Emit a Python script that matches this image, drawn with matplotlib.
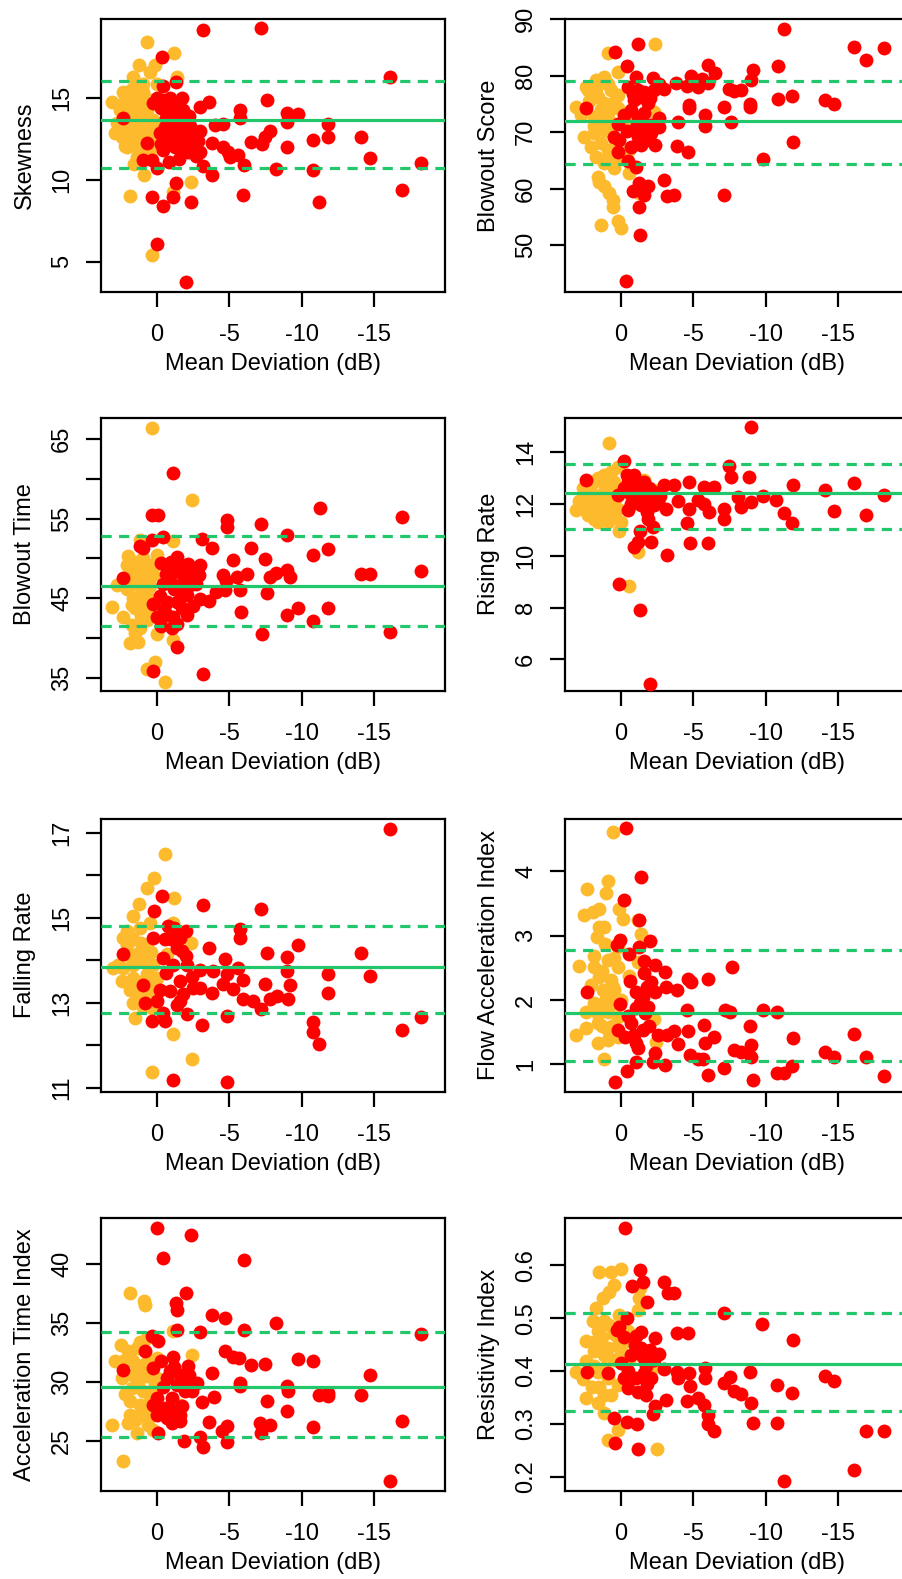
import numpy as np
import matplotlib.pyplot as plt

plt.rcParams['font.family'] = ['Liberation Sans', 'DejaVu Sans']
plt.rcParams['font.size'] = 17

# (mean deviation dB, value) pairs
skew_red = [(-3.2, 19.18), (-7.19, 19.29), (-0.37, 17.55), (-16.1, 16.33), (-1.29, 16.0), (-0.44, 15.76),
            (-2.97, 14.49), (-3.62, 14.8), (-7.58, 14.9), (-5.74, 14.29), (-5.74, 13.78), (-8.96, 14.08),
            (-9.77, 14.04), (-8.96, 13.57), (-11.84, 13.43), (-4.0, 13.37), (-4.54, 13.43), (-7.81, 13.02),
            (-7.46, 12.65), (-7.23, 12.2), (-6.47, 12.35), (-14.08, 12.61), (-11.84, 12.65), (-10.76, 12.45),
            (-8.96, 12.04), (-3.8, 12.24), (-4.59, 12.04), (-4.88, 11.73), (-5.58, 11.53), (-5.05, 11.43),
            (-2.97, 11.69), (-2.17, 11.73), (-3.16, 10.88), (-3.8, 10.33), (-6.04, 10.92), (-8.2, 10.67),
            (-10.81, 10.61), (-14.72, 11.33), (-18.23, 11.02), (-16.96, 9.39), (-11.22, 8.67), (-5.97, 9.08),
            (-2.35, 8.67), (-1.31, 9.84), (-1.13, 8.94), (-0.39, 8.43), (0.37, 8.98), (0.02, 6.08), (-2.0, 3.78),
            (0.02, 15.0), (-0.44, 14.9), (-0.9, 15.0), (-1.7, 15.0), (-1.13, 14.7), (-0.67, 14.3), (-1.82, 14.3),
            (0.25, 14.7), (-1.36, 13.9), (-2.28, 13.3), (-2.51, 12.86), (-1.59, 12.65), (-1.24, 12.04),
            (-2.05, 12.24), (-0.44, 11.84), (-0.55, 13.27), (-0.9, 13.06), (-1.59, 13.27), (-2.4, 12.65),
            (0.37, 11.22), (0.02, 10.71), (0.94, 11.22), (-1.13, 12.45), (-0.67, 12.45), (-1.7, 11.84),
            (-2.51, 12.04), (0.71, 12.24), (2.33, 13.78), (-0.3, 14.4), (-1.0, 14.2), (-1.9, 13.7), (-0.6, 13.8),
            (-2.2, 13.9), (-1.1, 13.3), (-2.8, 12.4), (-1.9, 12.9), (-0.2, 12.9), (-2.7, 11.5), (-1.5, 11.3),
            (-0.8, 11.1), (-3.0, 13.0), (-0.3, 12.2)]
skew_nor = [(0.67, 18.47), (-1.2, 17.76), (1.24, 17.04), (0.14, 17.04), (0.48, 16.63), (1.64, 16.33),
            (-1.36, 16.33), (3.13, 14.8), (2.33, 15.4), (1.75, 15.6), (0.94, 15.4), (1.4, 14.9), (2.56, 14.29),
            (1.87, 14.5), (0.71, 14.29), (1.18, 13.88), (2.9, 12.86), (2.44, 12.65), (1.87, 13.27), (1.4, 12.86),
            (0.94, 13.27), (0.48, 12.86), (0.25, 13.67), (1.75, 12.24), (0.94, 12.04), (1.4, 11.43),
            (0.48, 11.63), (2.1, 12.04), (0.9, 10.31), (1.87, 9.02), (0.37, 5.41), (-2.35, 9.9), (-1.13, 9.29),
            (0.02, 15.9), (-0.67, 14.1), (0.14, 12.04), (-0.2, 13.27), (1.64, 13.67), (2.21, 14.9), (2.79, 13.47),
            (2.0, 15.0), (1.5, 14.2), (1.0, 14.6), (0.6, 13.8), (1.2, 13.0), (1.8, 12.5), (0.8, 12.6), (0.3, 12.4),
            (1.3, 11.9), (0.6, 11.4), (2.2, 12.1), (1.6, 11.0), (0.4, 14.9), (2.6, 13.1), (1.0, 15.9)]

score_red = [(-11.24, 88.3), (-1.15, 85.6), (-16.13, 85.1), (-18.16, 84.9), (-16.94, 82.7), (0.41, 84.2),
             (-0.41, 81.6), (-5.99, 81.8), (-6.52, 80.4), (-10.83, 81.6), (-9.1, 80.9), (-8.99, 79.2),
             (-4.84, 79.9), (-5.58, 79.3), (-5.99, 78.6), (-2.19, 79.5), (-1.04, 79.8), (-3.8, 78.6), (-3.0, 77.7),
             (-4.56, 78.1), (-5.3, 78.0), (-7.49, 77.7), (-8.29, 77.4), (-7.83, 77.3), (-0.46, 78.0),
             (-1.15, 77.4), (-1.61, 77.1), (-2.3, 77.4), (-0.92, 75.6), (-1.84, 75.1), (-1.34, 76.2),
             (-10.83, 75.9), (-11.8, 76.4), (-14.1, 75.6), (-14.75, 74.9), (-4.72, 74.2), (-4.72, 74.8),
             (-7.14, 74.4), (-8.94, 74.4), (-8.94, 74.9), (-0.69, 73.9), (-0.23, 73.0), (2.42, 74.2),
             (-5.81, 73.0), (-5.81, 71.1), (-3.96, 71.8), (-7.6, 71.8), (0.23, 71.5), (-1.61, 71.5),
             (-1.04, 70.9), (-2.07, 71.2), (-2.65, 70.9), (-1.38, 70.1), (-2.07, 69.8), (-1.15, 69.2),
             (0.12, 68.6), (-1.38, 67.7), (-2.37, 67.7), (-3.85, 67.6), (-11.87, 68.3), (-4.65, 66.4),
             (-9.79, 65.2), (0.23, 66.5), (-0.46, 64.8), (-1.04, 63.9), (-3.0, 61.5), (-1.22, 60.9),
             (-1.84, 60.4), (-0.81, 59.5), (-1.57, 58.9), (-3.18, 58.6), (-3.64, 58.9), (-7.14, 58.9),
             (-1.27, 56.7), (-1.34, 51.8), (-0.35, 43.6), (0.46, 69.2), (-0.8, 76.8), (-2.0, 76.0), (-1.6, 73.4),
             (-2.6, 72.5), (-0.4, 70.2), (-1.9, 68.6), (-0.7, 67.4), (-2.6, 78.5), (-1.2, 72.6)]
score_nor = [(-2.37, 85.5), (0.88, 83.9), (0.23, 80.6), (1.15, 79.8), (1.73, 79.2), (2.42, 77.9), (0.69, 77.4),
             (0.23, 76.5), (1.61, 76.2), (3.11, 74.5), (2.76, 73.0), (1.15, 75.1), (1.84, 72.7), (0.92, 73.3),
             (0.23, 74.2), (-0.23, 72.1), (-0.58, 73.0), (-2.3, 73.6), (2.53, 69.2), (1.84, 69.8), (1.15, 70.4),
             (0.69, 69.8), (1.38, 68.0), (2.07, 67.4), (0.92, 66.8), (-0.58, 66.8), (1.73, 65.6), (1.15, 64.5),
             (0.23, 65.4), (0.46, 63.6), (-0.58, 62.7), (1.61, 62.1), (1.5, 61.2), (1.15, 60.4), (0.81, 59.2),
             (0.58, 58.0), (0.53, 56.8), (1.38, 53.6), (0.23, 54.2), (0.0, 53.0), (-1.22, 59.2), (2.3, 77.4),
             (1.4, 74.0), (0.6, 71.6), (1.9, 71.0), (1.2, 72.2), (0.4, 68.4), (1.7, 77.6), (0.9, 78.5),
             (2.2, 75.5), (0.5, 75.4), (0.9, 65.5)]

btime_red = [(-1.13, 60.7), (-11.27, 56.3), (-16.96, 55.25), (0.37, 55.4), (-0.05, 55.5), (-4.82, 54.8),
             (-4.82, 54.0), (-7.17, 54.3), (-8.96, 52.9), (-0.39, 52.7), (0.37, 52.3), (-3.09, 52.4),
             (-3.8, 51.3), (-6.47, 51.3), (-10.76, 50.4), (-11.84, 51.2), (0.94, 51.3), (-1.36, 50.2),
             (-5.28, 49.8), (-7.46, 49.9), (-2.97, 49.2), (-2.17, 49.3), (-14.08, 48.1), (-14.72, 48.1),
             (-18.23, 48.4), (-8.23, 48.2), (-8.96, 48.5), (-9.19, 47.6), (-7.81, 47.6), (-6.2, 48.1),
             (-5.55, 47.6), (-4.54, 47.9), (-4.77, 47.1), (-4.7, 46.0), (-5.74, 46.0), (-7.58, 45.7),
             (-4.08, 45.8), (-3.62, 44.7), (-2.97, 44.9), (-1.13, 48.3), (-1.82, 47.9), (-2.51, 47.5),
             (-2.28, 46.6), (-1.59, 46.6), (-0.9, 47.1), (-0.44, 46.8), (2.33, 47.5), (-2.05, 45.4),
             (-1.36, 44.5), (-0.67, 44.5), (0.25, 44.3), (0.02, 42.6), (-0.67, 42.9), (-1.7, 43.7),
             (-2.05, 42.9), (-1.13, 42.6), (-1.01, 41.2), (-9.77, 43.8), (-11.84, 43.8), (-5.8, 43.3),
             (-8.96, 42.9), (-10.76, 42.1), (-7.24, 40.5), (-16.1, 40.7), (-1.36, 38.9), (0.25, 35.8),
             (-3.16, 35.4), (1.18, 51.5), (-0.3, 49.4), (-1.0, 49.6), (-1.6, 49.0), (-2.3, 48.6), (-0.6, 48.1),
             (-1.2, 46.1), (-2.7, 46.8), (-0.2, 45.3), (-1.7, 45.3), (-0.5, 43.6), (-2.5, 44.0), (-1.4, 41.8),
             (-0.3, 41.5), (-2.9, 47.9)]
btime_nor = [(0.37, 66.4), (-2.4, 57.4), (1.18, 52.3), (-1.13, 52.2), (1.4, 49.6), (0.94, 50.0), (1.87, 48.7),
             (0.48, 49.2), (0.02, 50.4), (2.79, 46.6), (2.1, 46.2), (1.64, 47.7), (0.94, 47.3), (0.25, 47.9),
             (3.13, 43.9), (2.33, 42.6), (1.52, 43.7), (1.64, 45.0), (0.71, 45.4), (0.6, 43.5), (1.75, 41.6),
             (1.18, 41.2), (1.87, 39.3), (1.29, 39.5), (0.02, 40.5), (-1.13, 39.7), (0.71, 36.1), (0.14, 37.0),
             (-0.55, 34.5), (-0.55, 44.1), (0.94, 48.3), (2.1, 49.2), (1.6, 48.5), (1.2, 49.5), (0.8, 48.9),
             (1.5, 46.8), (1.0, 46.2), (0.5, 46.5), (1.3, 45.2), (0.9, 44.6), (1.7, 44.2), (0.4, 44.9),
             (1.1, 42.8), (0.7, 42.2), (1.5, 40.6), (2.0, 50.3), (0.2, 49.0)]

rise_red = [(-8.99, 14.96), (-0.23, 13.64), (-7.49, 13.48), (-8.87, 13.05), (-7.6, 13.05), (2.42, 12.92),
            (-0.92, 13.12), (-4.72, 12.83), (-3.0, 12.73), (-3.69, 12.73), (-5.76, 12.66), (-6.45, 12.66),
            (-11.87, 12.73), (-16.13, 12.79), (-14.1, 12.53), (-18.16, 12.36), (-9.79, 12.31), (-10.71, 12.14),
            (-8.99, 12.08), (-8.06, 12.27), (-8.29, 11.88), (-3.92, 12.1), (-5.3, 12.14), (-5.76, 12.01),
            (-6.11, 11.69), (-4.72, 11.82), (-3.11, 11.82), (-7.14, 11.82), (-7.14, 11.43), (-11.24, 11.66),
            (-14.75, 11.71), (-11.8, 11.26), (-16.94, 11.56), (-4.54, 11.26), (-1.84, 11.43), (-2.19, 11.1),
            (-1.34, 10.97), (-2.07, 10.52), (-4.79, 10.49), (-5.99, 10.49), (-1.15, 10.52), (-0.92, 10.32),
            (-3.18, 10.04), (0.16, 8.9), (-1.34, 7.92), (-2.0, 5.06), (-0.46, 12.86), (-1.15, 12.6),
            (-1.61, 12.34), (-2.07, 12.21), (-2.53, 12.08), (-1.15, 12.08), (-0.46, 11.75), (-0.69, 12.34),
            (0.23, 12.34), (-0.23, 12.6), (-1.61, 12.86), (-2.3, 12.47), (-0.92, 12.73), (-1.38, 11.95),
            (-2.3, 11.95), (-0.7, 12.0), (-1.9, 12.6), (-2.7, 12.3), (-0.4, 13.1), (-1.2, 12.3), (-1.8, 11.7)]
rise_nor = [(0.85, 14.35), (0.23, 13.44), (0.69, 13.25), (1.15, 13.12), (1.61, 12.99), (-1.61, 12.92),
            (-2.3, 12.53), (2.07, 12.73), (2.53, 12.34), (1.84, 12.34), (1.15, 12.47), (0.69, 12.6),
            (3.11, 11.75), (2.53, 11.82), (2.07, 11.95), (1.38, 12.08), (0.92, 12.21), (2.3, 11.56),
            (1.61, 11.56), (0.92, 11.69), (0.23, 11.82), (1.61, 11.3), (0.92, 11.3), (0.0, 11.3), (-0.69, 11.95),
            (0.16, 10.94), (-1.15, 10.13), (-0.58, 8.83), (-0.46, 13.05), (0.46, 12.86), (1.9, 12.1),
            (1.3, 11.9), (0.6, 12.0), (1.8, 12.9), (0.4, 12.2), (2.6, 12.6), (1.2, 12.8), (0.5, 11.5),
            (1.9, 11.4), (2.9, 12.1)]

fall_red = [(-16.1, 17.09), (-0.32, 15.51), (-3.16, 15.3), (-7.19, 15.2), (0.21, 15.16), (-0.78, 14.8),
            (-1.2, 14.76), (-2.0, 14.69), (-5.74, 14.73), (-5.74, 14.53), (0.3, 14.53), (-0.55, 14.49),
            (-1.59, 14.53), (-9.77, 14.35), (-3.62, 14.29), (-14.08, 14.18), (-7.58, 14.16), (-1.7, 14.22),
            (-8.96, 14.07), (-4.7, 14.02), (2.33, 14.14), (-0.44, 14.06), (-1.13, 13.9), (-2.05, 13.9),
            (-2.97, 13.78), (-3.89, 13.75), (-5.62, 13.82), (-8.96, 13.75), (-11.84, 13.67), (-14.72, 13.63),
            (-4.82, 13.67), (-5.97, 13.53), (-4.54, 13.45), (-7.46, 13.45), (-9.19, 13.42), (-1.59, 13.51),
            (-2.51, 13.35), (-2.97, 13.35), (-5.28, 13.33), (-3.8, 13.24), (-11.84, 13.24), (0.94, 13.43),
            (-0.9, 13.27), (-1.82, 13.2), (-5.97, 13.08), (-6.66, 13.05), (-7.81, 13.08), (-8.27, 13.16),
            (-9.08, 13.1), (-7.19, 12.86), (0.83, 13.0), (0.02, 13.04), (-1.36, 12.96), (-0.44, 12.76),
            (-2.05, 12.74), (-4.82, 12.69), (0.37, 12.57), (-0.55, 12.57), (-3.09, 12.47), (-10.76, 12.55),
            (-10.76, 12.31), (-11.22, 12.04), (-18.23, 12.67), (-16.96, 12.36), (-1.08, 11.18), (-4.82, 11.13),
            (-1.59, 13.04), (-0.6, 13.7), (-1.4, 14.3), (-2.4, 13.6), (-0.2, 13.3), (-1.0, 14.5), (-2.0, 14.1)]
fall_nor = [(-0.55, 16.49), (0.21, 15.94), (0.71, 15.71), (-1.2, 15.47), (1.22, 15.33), (1.64, 15.04),
            (-1.13, 14.88), (2.1, 14.69), (1.18, 14.76), (0.48, 14.88), (2.33, 14.53), (1.64, 14.49),
            (-2.33, 14.41), (0.71, 14.29), (1.4, 14.14), (2.1, 14.37), (3.02, 13.82), (2.33, 13.82),
            (1.64, 13.9), (0.94, 13.98), (0.25, 13.9), (2.44, 13.51), (1.64, 13.59), (0.71, 13.67),
            (0.02, 13.59), (1.4, 13.24), (0.71, 13.2), (-0.09, 13.27), (1.64, 13.0), (0.37, 12.88),
            (1.52, 12.65), (-1.08, 12.27), (-2.4, 11.69), (0.37, 11.38), (-0.67, 14.14), (1.1, 14.4),
            (0.4, 14.2), (1.9, 13.3), (1.1, 13.5), (0.5, 13.4), (1.9, 14.1), (2.7, 13.9), (1.0, 12.9)]

fai_red = [(-0.35, 4.67), (-1.38, 3.92), (-0.23, 3.55), (-1.27, 3.25), (-2.03, 2.92), (0.05, 2.93),
           (-1.27, 2.83), (-0.58, 2.72), (0.28, 2.85), (-7.65, 2.51), (-2.35, 2.54), (-3.04, 2.44),
           (-1.57, 2.42), (-4.65, 2.33), (-5.99, 2.33), (-4.84, 2.28), (-2.07, 2.28), (-3.11, 2.2),
           (-3.87, 2.15), (-1.04, 2.12), (-2.35, 2.12), (-1.5, 2.05), (2.35, 2.12), (0.05, 1.94),
           (-1.04, 1.87), (-1.84, 1.89), (-1.66, 1.8), (-4.56, 1.85), (-7.19, 1.84), (-7.56, 1.82),
           (-9.79, 1.84), (-10.78, 1.82), (-0.69, 1.64), (-1.5, 1.53), (0.23, 1.53), (-0.28, 1.43),
           (-0.92, 1.45), (-5.76, 1.61), (-8.94, 1.59), (-4.65, 1.52), (-3.18, 1.45), (-3.69, 1.52),
           (-2.53, 1.45), (-6.45, 1.42), (-5.81, 1.34), (-11.87, 1.41), (-16.13, 1.47), (-3.96, 1.32),
           (-1.04, 1.33), (-1.15, 1.25), (-8.99, 1.3), (-7.83, 1.23), (-8.29, 1.2), (-14.1, 1.2),
           (-14.75, 1.12), (-16.94, 1.12), (-4.79, 1.15), (-5.3, 1.09), (-5.64, 1.09), (-8.99, 1.12),
           (-2.35, 1.17), (-2.19, 1.04), (-1.04, 1.04), (-3.06, 0.99), (-7.1, 0.94), (-11.8, 0.97),
           (-10.78, 0.86), (-11.24, 0.86), (-5.99, 0.84), (-18.16, 0.82), (-0.41, 0.89), (0.39, 0.73),
           (-9.1, 0.76), (-1.8, 2.2), (-1.3, 1.95), (-0.5, 1.75), (-1.9, 1.6), (-0.6, 2.3), (-1.6, 2.6)]
fai_nor = [(0.58, 4.62), (0.88, 3.85), (2.35, 3.73), (1.04, 3.67), (1.5, 3.42), (2.53, 3.33), (1.96, 3.37),
           (0.12, 3.42), (-0.12, 3.26), (-1.15, 3.24), (1.5, 3.13), (1.15, 3.13), (1.68, 2.98), (-1.38, 3.03),
           (1.1, 2.87), (0.18, 2.82), (2.88, 2.53), (1.84, 2.69), (1.84, 2.51), (0.92, 2.62), (0.23, 2.51),
           (-1.15, 2.59), (-0.58, 2.38), (1.5, 2.36), (0.69, 2.31), (2.07, 2.23), (1.27, 2.15), (0.46, 2.15),
           (1.04, 2.02), (0.0, 2.0), (2.42, 1.82), (1.61, 1.79), (0.92, 1.82), (0.23, 1.74), (-2.26, 1.7),
           (3.11, 1.45), (2.42, 1.56), (1.61, 1.64), (0.92, 1.53), (1.61, 1.34), (0.92, 1.38), (0.23, 1.43),
           (-2.42, 1.35), (1.15, 1.09), (0.58, 2.2), (1.3, 2.45), (0.5, 2.65), (1.9, 1.95), (1.3, 1.6),
           (0.6, 1.6), (1.2, 1.95), (0.4, 1.95)]

ati_red = [(0.02, 43.05), (-2.33, 42.49), (-0.44, 40.51), (-6.01, 40.37), (-2.0, 37.54), (-1.31, 36.69),
           (-1.36, 36.13), (-3.8, 35.65), (-4.7, 35.42), (-8.23, 35.0), (-1.41, 34.44), (-2.97, 34.21),
           (-6.04, 34.44), (-18.23, 34.07), (0.37, 33.87), (-0.09, 33.45), (0.83, 32.6), (-4.7, 32.6),
           (-5.28, 32.12), (-5.69, 32.03), (-1.08, 32.12), (-9.77, 31.98), (-10.76, 31.75), (-6.47, 31.47),
           (-7.46, 31.55), (-2.17, 31.33), (0.25, 31.19), (2.33, 31.05), (-3.8, 30.76), (-14.72, 30.62),
           (-0.9, 30.9), (-1.59, 30.62), (-0.67, 30.34), (-2.05, 30.06), (-2.74, 29.92), (-5.74, 29.92),
           (-5.74, 29.63), (-1.36, 29.77), (-8.96, 29.63), (-9.08, 29.21), (-11.22, 28.93), (-11.84, 29.07),
           (-11.84, 28.79), (-14.08, 28.93), (-2.4, 29.21), (-3.09, 28.31), (-3.96, 28.73), (-1.01, 28.64),
           (0.02, 28.64), (-7.58, 28.36), (0.25, 28.08), (-0.55, 27.8), (-1.7, 27.94), (-8.96, 27.57),
           (-1.59, 27.23), (0.02, 27.23), (-0.67, 26.95), (-1.59, 26.67), (-1.01, 26.53), (-3.62, 26.61),
           (-4.82, 26.24), (-4.47, 25.82), (-7.12, 26.53), (-7.81, 26.38), (-7.19, 25.68), (-10.76, 26.16),
           (-16.96, 26.72), (-0.09, 25.68), (-1.89, 24.97), (-4.82, 24.92), (-2.97, 25.34), (-3.16, 24.49),
           (-16.1, 21.58), (-1.2, 31.3), (-0.4, 29.6), (-1.9, 29.2), (-1.0, 27.6), (-2.2, 30.6), (-0.3, 31.8)]
ati_nor = [(1.87, 37.54), (0.9, 36.84), (0.83, 36.55), (2.51, 33.16), (1.4, 32.88), (0.71, 33.73),
           (-2.4, 32.26), (2.9, 31.75), (2.33, 31.75), (1.64, 31.75), (0.94, 31.47), (0.02, 32.03),
           (2.44, 30.34), (1.64, 30.62), (0.71, 30.48), (0.02, 30.34), (1.75, 29.49), (0.94, 29.21),
           (0.14, 29.77), (1.87, 28.36), (1.18, 28.08), (0.48, 28.36), (1.87, 27.23), (1.18, 27.23),
           (3.13, 26.38), (1.98, 26.53), (1.4, 25.68), (0.6, 26.38), (0.25, 25.96), (2.37, 23.28),
           (-1.13, 34.29), (-1.59, 28.08), (1.3, 30.0), (0.5, 29.0), (1.4, 31.1), (0.6, 31.9), (2.2, 29.0),
           (0.6, 27.4), (1.5, 26.8), (2.0, 32.6), (1.2, 33.4)]

ri_red = [(-0.3, 0.670), (-1.34, 0.591), (-1.54, 0.569), (-3.0, 0.569), (-0.76, 0.560), (-3.23, 0.547),
          (-3.64, 0.547), (-1.8, 0.530), (-7.14, 0.509), (-0.41, 0.500), (-9.75, 0.489), (0.12, 0.484),
          (0.28, 0.478), (-1.38, 0.474), (-3.87, 0.472), (-4.65, 0.472), (-1.04, 0.467), (-0.23, 0.465),
          (-2.35, 0.462), (-11.87, 0.458), (-1.38, 0.443), (-2.03, 0.440), (-1.5, 0.426), (-2.65, 0.432),
          (0.0, 0.415), (-3.0, 0.403), (-3.85, 0.399), (-4.72, 0.396), (-5.81, 0.406), (-8.94, 0.398),
          (-1.61, 0.396), (0.92, 0.396), (2.35, 0.399), (-1.04, 0.387), (-2.07, 0.387), (-0.23, 0.387),
          (-3.92, 0.387), (-5.81, 0.387), (-7.56, 0.388), (-14.1, 0.391), (-14.75, 0.381), (-7.14, 0.377),
          (-10.78, 0.374), (-4.79, 0.371), (-0.46, 0.368), (-1.15, 0.360), (-1.73, 0.355), (-7.83, 0.362),
          (-8.29, 0.357), (-11.8, 0.358), (-3.11, 0.346), (-4.56, 0.343), (-5.3, 0.349), (-5.76, 0.335),
          (-8.99, 0.340), (-2.35, 0.333), (-2.19, 0.318), (-5.99, 0.316), (0.46, 0.311), (-9.1, 0.302),
          (-10.78, 0.302), (-0.41, 0.304), (-1.11, 0.299), (-5.99, 0.300), (-6.45, 0.286), (-16.94, 0.286),
          (-18.16, 0.287), (0.39, 0.264), (-1.15, 0.252), (-16.13, 0.212), (-11.24, 0.192), (-0.7, 0.43),
          (-1.7, 0.41), (-0.5, 0.40), (-2.3, 0.42), (-1.0, 0.45), (-1.8, 0.375)]
ri_nor = [(1.5, 0.588), (0.69, 0.588), (0.0, 0.593), (0.46, 0.563), (0.81, 0.550), (1.27, 0.538),
          (-1.34, 0.557), (-1.27, 0.538), (1.73, 0.519), (-1.15, 0.516), (0.12, 0.506), (1.96, 0.494),
          (1.15, 0.494), (1.61, 0.475), (0.81, 0.487), (-0.46, 0.475), (2.42, 0.457), (1.61, 0.450),
          (0.92, 0.443), (0.23, 0.450), (-0.58, 0.456), (1.84, 0.437), (2.42, 0.418), (1.15, 0.431),
          (0.0, 0.437), (3.11, 0.399), (2.65, 0.384), (1.61, 0.399), (0.92, 0.387), (0.23, 0.374),
          (-0.58, 0.421), (-2.26, 0.407), (2.42, 0.349), (1.61, 0.340), (1.15, 0.355), (1.15, 0.321),
          (0.23, 0.289), (0.92, 0.270), (-2.47, 0.252), (1.3, 0.465), (0.5, 0.47), (1.9, 0.41),
          (1.2, 0.405), (0.5, 0.42), (2.0, 0.37), (1.5, 0.37), (0.7, 0.355), (1.9, 0.455)]

ylabels = ['Skewness', 'Blowout Score', 'Blowout Time', 'Rising Rate',
           'Falling Rate', 'Flow Acceleration Index', 'Acceleration Time Index', 'Resistivity Index']
red_sets = [skew_red, score_red, btime_red, rise_red, fall_red, fai_red, ati_red, ri_red]
nor_sets = [skew_nor, score_nor, btime_nor, rise_nor, fall_nor, fai_nor, ati_nor, ri_nor]

# reference mean and limits of agreement
ref_mean = [13.67, 71.94, 46.58, 12.41, 13.85, 1.80, 29.58, 0.413]
ref_low = [10.76, 64.35, 41.52, 11.02, 12.75, 1.06, 25.29, 0.325]
ref_high = [16.08, 79.0, 52.82, 13.54, 14.8, 2.78, 34.2, 0.509]

yticks = [[5, 10, 15], [50, 60, 70, 80, 90], [35, 40, 45, 50, 55, 60, 65], [6, 8, 10, 12, 14],
          [11, 12, 13, 14, 15, 16, 17], [1, 2, 3, 4], [25, 30, 35, 40], [0.2, 0.3, 0.4, 0.5, 0.6]]
ytick_labels = [['5', '10', '15'], ['50', '60', '70', '80', '90'], ['35', '', '45', '', '55', '', '65'],
                ['6', '8', '10', '12', '14'], ['11', '', '13', '', '15', '', '17'], ['1', '2', '3', '4'],
                ['25', '30', '35', '40'], ['0.2', '0.3', '0.4', '0.5', '0.6']]
ylims = [(3.14, 19.86), (41.7, 90.0), (33.36, 67.7), (4.79, 15.33),
         (10.91, 17.33), (0.575, 4.82), (20.77, 43.94), (0.1735, 0.69)]
xticks = [0, -5, -10, -15]

red = '#FF0000'
gold = '#FCBA2C'
green = '#22C76B'

W, H = 902, 1579
fig = plt.figure(figsize=(W / 100, H / 100), dpi=100)
lefts = [101, 565]
bottoms = [292, 690.7, 1091.7, 1490.7]

for i in range(8):
    r, c = divmod(i, 2)
    ax = fig.add_axes([lefts[c] / W, 1 - bottoms[r] / H, 344 / W, 273 / H])
    nx, ny = np.array(nor_sets[i]).T
    rx, ry = np.array(red_sets[i]).T
    ax.scatter(nx, ny, s=100, color=gold, linewidths=0, zorder=2)
    ax.scatter(rx, ry, s=100, color=red, linewidths=0, zorder=3)
    ax.axhline(ref_mean[i], color=green, lw=2.3, zorder=4)
    for v in (ref_low[i], ref_high[i]):
        ax.axhline(v, color=green, lw=2.3, dashes=(3.2, 2.3), zorder=4)
    ax.set_xlim(3.87, -19.9)
    ax.set_ylim(*ylims[i])
    ax.set_xticks(xticks)
    ax.set_xticklabels([str(t) for t in xticks])
    ax.set_yticks(yticks[i])
    ax.set_yticklabels(ytick_labels[i], rotation=90, va='center')
    for sp in ax.spines.values():
        sp.set_linewidth(1.6)
    ax.tick_params(axis='both', length=11, width=1.6, labelsize=17)
    ax.tick_params(axis='x', pad=12)
    ax.tick_params(axis='y', pad=9)
    ax.set_xlabel('Mean Deviation (dB)', fontsize=17)
    ax.set_ylabel(ylabels[i], fontsize=17)
    ax.xaxis.set_label_coords(0.5, -0.225)
    ax.yaxis.set_label_coords(-0.19, 0.5)

fig.savefig('out.png', dpi=100)
